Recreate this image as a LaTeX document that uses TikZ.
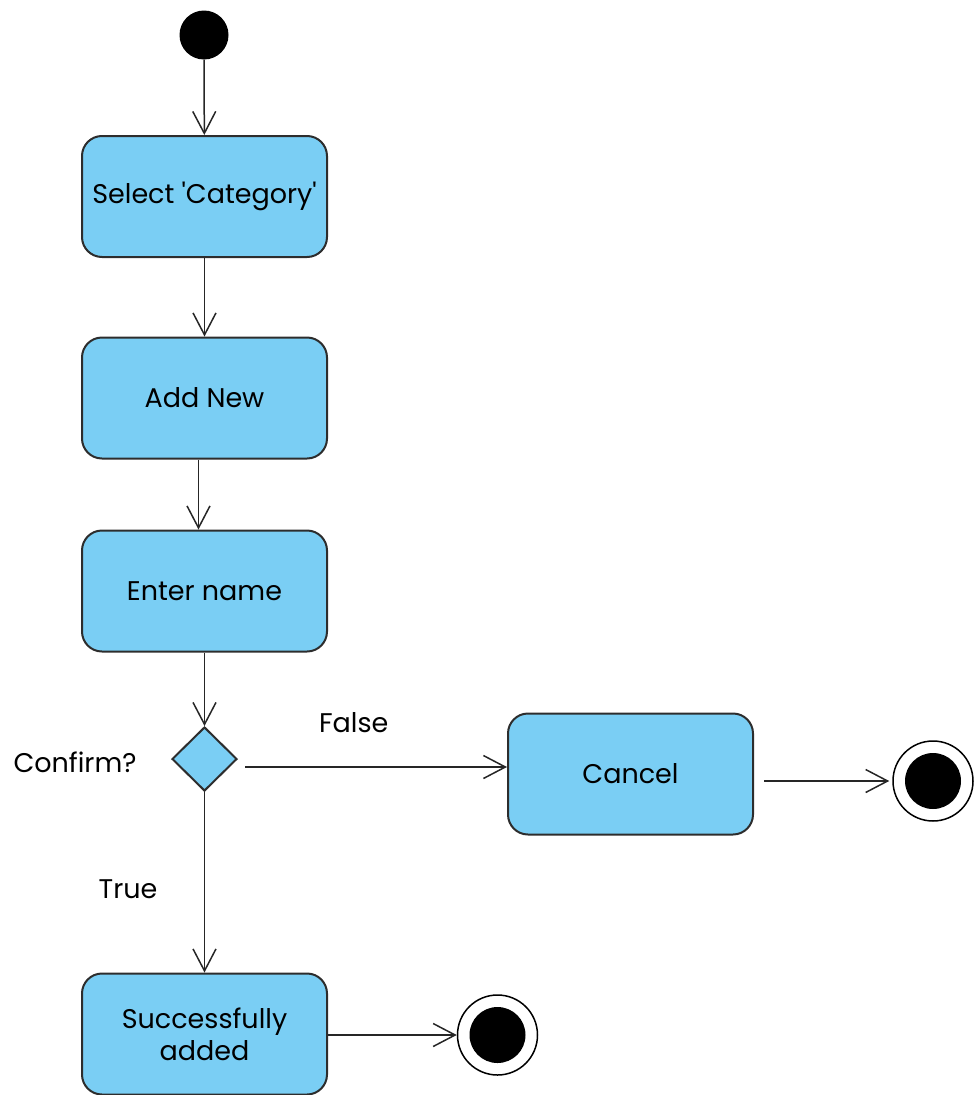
\documentclass[tikz,border=0pt]{standalone}
\usepackage{fontspec}
\setmainfont{Poppins}[Ligatures=TeXOff]
\usetikzlibrary{positioning,shapes.geometric,arrows.meta}

\definecolor{actfill}{RGB}{122,206,244}
\definecolor{actline}{RGB}{45,45,45}

\begin{document}
\begin{tikzpicture}[
  x=1pt,y=-1pt,
  font=\fontsize{27}{32}\selectfont,
  actblock/.style={
    rectangle,
    rounded corners=20pt,
    line width=2pt,
    draw=actline,
    fill=actfill,
    inner sep=0pt,
    align=center,
    minimum width=245pt,
    minimum height=121pt
  },
  decision/.style={
    diamond,
    line width=2pt,
    draw=actline,
    fill=actfill,
    inner sep=0pt,
    minimum width=65pt,
    minimum height=64pt
  },
  startdot/.style={
    circle,
    fill=black,
    inner sep=0pt,
    minimum size=49pt
  },
  enddot/.style={
    circle,
    draw=black,
    line width=1.5pt,
    fill=white,
    inner sep=0pt,
    minimum size=80pt,
    path picture={\fill[black] (path picture bounding box.center) circle (28);}
  },
  flow/.style={
    line width=1.5pt,
    draw=black!85,
    -{Straight Barb[length=22pt,width=23pt,line width=1.5pt]}
  }]
  \useasboundingbox (0,0) rectangle (974,1095);

  \node [startdot] (start) at (204,35) {};
  \node [actblock] (select) at (204.5,196.5) {Select 'Category'};
  \node [actblock] (addnew) at (204.5,398) {Add New};
  \node [actblock] (entername) at (204.5,591) {Enter name};
  % decision
  \node [decision] (confirm) at (204.5,759) {};
  \node (confirmlbl) at (75,762) {Confirm?};
  \node [actblock] (cancel) at (630.5,774) {Cancel};
  \node [actblock] (added) at (204.5,1034) {Successfully\\added};
  % final states
  \node [enddot] (endcancel) at (933,781) {};
  \node [enddot] (endadded) at (497.5,1035) {};

  \draw [flow] (start) -- (select);
  \draw [flow] (select) -- (addnew);
  \draw [flow] ([xshift=-6pt]addnew.south) -- ([xshift=-6pt]entername.north);
  \draw [flow] (entername) -- (confirm);
  \draw [flow,shorten <=7pt] (confirm.east |- 0,767) -- node[pos=0.43,above=30pt] {False} (cancel.west |- 0,767);
  \draw [flow] (confirm) -- node[pos=0.54,left=43pt] {True} (added);
  \draw [flow,shorten <=10pt,shorten >=3pt] (cancel.east |- endcancel) -- (endcancel);
  \draw [flow] (added.east |- endadded) -- (endadded);
\end{tikzpicture}
\end{document}
